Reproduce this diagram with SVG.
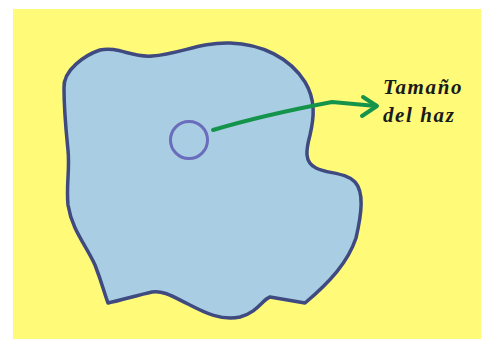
<svg xmlns="http://www.w3.org/2000/svg" width="481" height="340" viewBox="0 0 481 340">
  <style>
    .bg { fill: #fffa78; }
    .blob { fill: #a9cee3; stroke: #3e4a80; stroke-width: 3.5; stroke-linejoin: round; }
    .beam { fill: none; stroke: #6a6cbc; stroke-width: 3; }
    .link { fill: none; stroke: #14944a; stroke-width: 4; stroke-linecap: round; stroke-linejoin: round; }
    .label { font-family: "Liberation Serif", "DejaVu Serif", serif; font-style: italic; font-weight: bold; font-size: 21px; letter-spacing: 1.6px; fill: #1a1a1a; }
  </style>
  <rect width="481" height="340" fill="#ffffff"/>
  <rect class="bg" x="13" y="9" width="468" height="330"/>

  <!-- irregular sample outline -->
  <g id="sample">
    <path class="blob" d="M64,88 C63,70 85,55 100,50 C118,46 132,58 152,56 C180,54 200,42 230,43 C262,44 290,58 305,82 C316,100 314,118 310,135 C306,150 304,162 316,168 C328,174 345,172 355,182 C364,192 362,212 356,238 C348,262 330,282 305,303 L270,297 C262,300 258,312 240,317 C222,321 205,313 188,304 C172,296 162,290 152,292 C138,295 122,300 108,303 C104,292 102,283 95,265 C86,245 72,230 68,205 C66,185 70,170 68,150 C66,130 64,112 64,88 Z"/>
  </g>

  <!-- beam spot -->
  <g id="spot">
    <circle class="beam" cx="189" cy="140" r="18.5"/>
  </g>

  <!-- pointer from spot to label -->
  <g id="connectors">
    <path class="link" d="M213,130 C250,119 290,110 332,102 L376,106"/>
    <path class="link" d="M363,97 L377,106 L362,116"/>
  </g>

  <g id="label">
    <text class="label" x="383" y="94">Tamaño</text>
    <text class="label" x="383" y="122">del haz</text>
  </g>
</svg>
